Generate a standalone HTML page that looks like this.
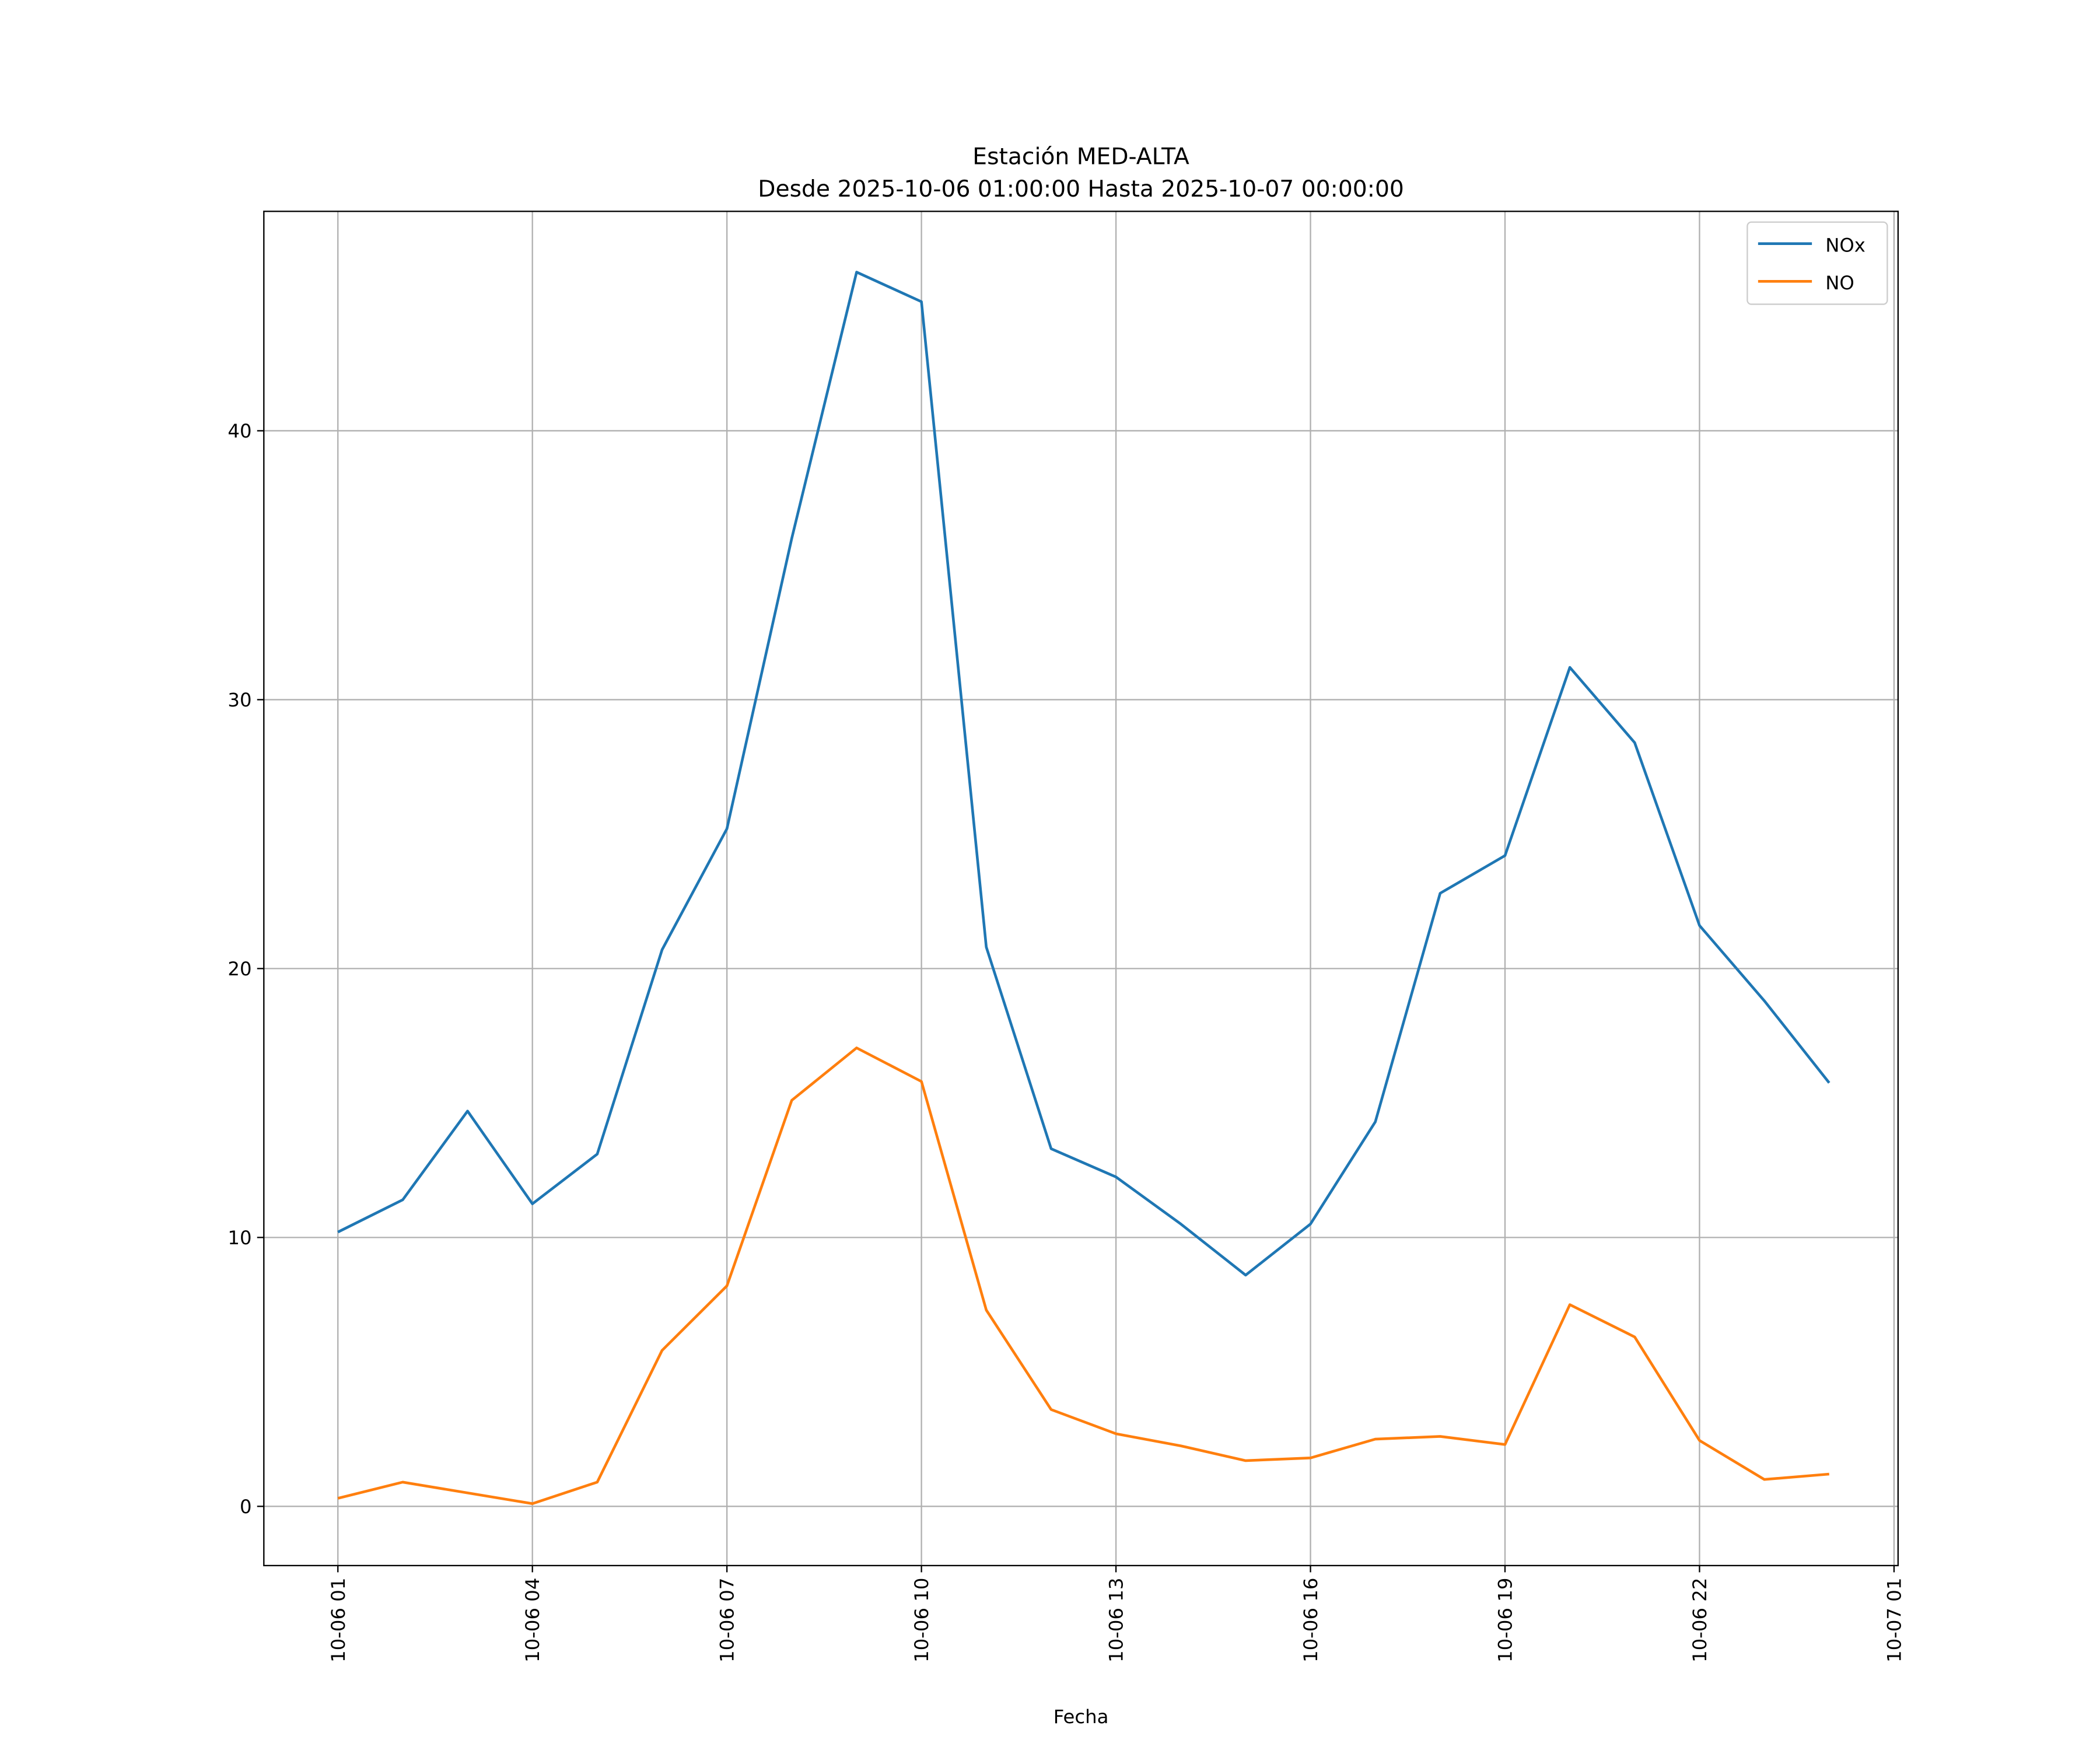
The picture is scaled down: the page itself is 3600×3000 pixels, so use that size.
<!DOCTYPE html>
<html><head><meta charset="utf-8"><style>html,body{margin:0;padding:0;background:#fff}svg{display:block}text{font-family:"DejaVu Sans","Liberation Sans",sans-serif;fill:#000}</style></head>
<body>
<svg id="chart" width="3600" height="3000" viewBox="0 0 1560 1300" xmlns="http://www.w3.org/2000/svg">
<rect width="1560" height="1300" fill="#fff"/>
<g id="grid"></g>
<g id="series"></g>
<rect x="196" y="157" width="1214" height="1006" fill="none" stroke="#000" stroke-width="1"/>
<g id="ticks"></g>
<text x="803" y="122" font-size="17" text-anchor="middle">Estación MED-ALTA</text>
<text x="803" y="146" font-size="17" text-anchor="middle">Desde 2025-10-06 01:00:00 Hasta 2025-10-07 00:00:00</text>
<text x="803" y="1280" font-size="14" text-anchor="middle">Fecha</text>
<g>
<rect x="1298" y="165" width="104" height="61" rx="3" fill="#fff" stroke="#ccc"/>
<line x1="1306" y1="181" x2="1346" y2="181" stroke="#1f77b4" stroke-width="2"/>
<text x="1356" y="187" font-size="14">NOx</text>
<line x1="1306" y1="209" x2="1346" y2="209" stroke="#ff7f0e" stroke-width="2"/>
<text x="1356" y="215" font-size="14">NO</text>
</g>
</svg>
<script>
const hours = [1,2,3,4,5,6,7,8,9,10,11,12,13,14,15,16,17,18,19,20,21,22,23,24];
const noxValues = [10.2,11.4,14.7,11.25,13.1,20.7,25.2,36.0,45.9,44.8,20.8,13.3,12.25,10.5,8.6,10.5,14.3,22.8,24.2,31.2,28.4,21.6,18.8,15.75];
const noValues = [0.3,0.9,0.5,0.1,0.9,5.8,8.2,15.1,17.05,15.8,7.3,3.6,2.7,2.25,1.7,1.8,2.5,2.6,2.3,7.5,6.3,2.45,1.0,1.2];
const yTicks = [0,10,20,30,40];
const xTickHours = [1,4,7,10,13,16,19,22,25];
const xTickLabels = ["10-06 01","10-06 04","10-06 07","10-06 10","10-06 13","10-06 16","10-06 19","10-06 22","10-07 01"];

const NS="http://www.w3.org/2000/svg";
const L=196,R=1410,T=157,B=1163;
const xs=h=>251+(h-1)*48.1667;
const ys=v=>1119-v*19.975;
function mk(tag,attrs,parent){const e=document.createElementNS(NS,tag);for(const k in attrs)e.setAttribute(k,attrs[k]);parent.appendChild(e);return e;}
const grid=document.getElementById('grid'),ticks=document.getElementById('ticks'),series=document.getElementById('series');
yTicks.forEach(v=>{
  const y=ys(v);
  const g=mk('line',{x1:L,x2:R,y1:y,y2:y,stroke:'#b0b0b0','stroke-width':1},grid);
  
  
  mk('line',{x1:L-5,x2:L,y1:y,y2:y,stroke:'#000'},ticks);
  const t=mk('text',{x:L-9,y:y+5,'font-size':14,'text-anchor':'end'},ticks);
  t.textContent=v;
  
  
});
xTickHours.forEach((h,i)=>{
  const x=xs(h);
  const g=mk('line',{x1:x,x2:x,y1:T,y2:B,stroke:'#b0b0b0','stroke-width':1},grid);
  
  
  mk('line',{x1:x,x2:x,y1:B,y2:B+5,stroke:'#000'},ticks);
  const t=mk('text',{x:0,y:0,'font-size':14,'text-anchor':'end',transform:`translate(${x+5},${B+9}) rotate(-90)`},ticks);
  t.textContent=xTickLabels[i];
  
  
});
function line(vals,color,name){
  const p=mk('polyline',{points:vals.map((v,i)=>xs(hours[i])+','+ys(v)).join(' '),fill:'none',stroke:color,'stroke-width':2,'stroke-linejoin':'round'},series);
  
  
}
line(noxValues,'#1f77b4','nox-line');
line(noValues,'#ff7f0e','no-line');
</script>
</body></html>
